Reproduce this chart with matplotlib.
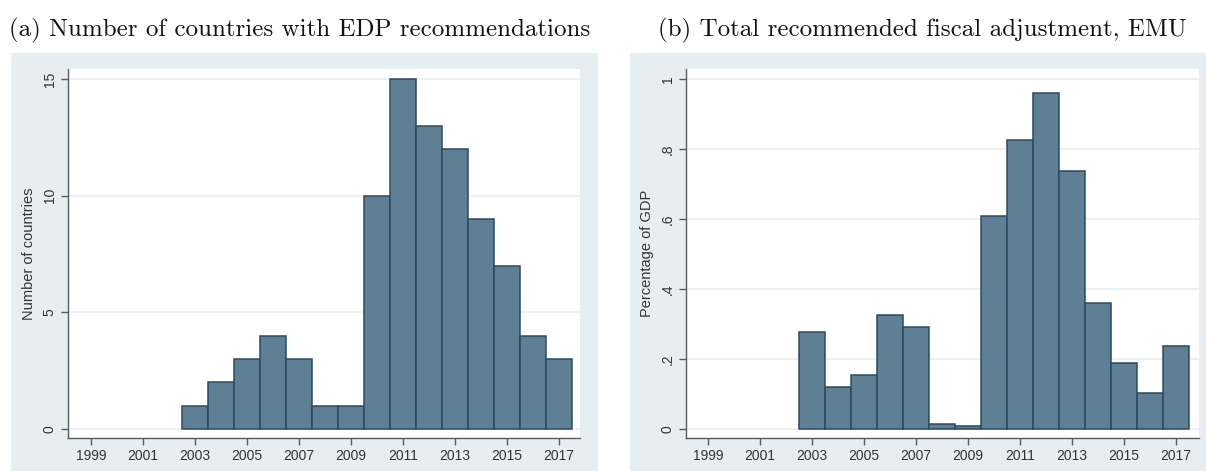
import matplotlib
matplotlib.use("Agg")
import matplotlib.pyplot as plt
from matplotlib.patches import Rectangle

years = [2003, 2004, 2005, 2006, 2007, 2008, 2009, 2010, 2011, 2012, 2013, 2014, 2015, 2016, 2017]
n_countries = [1, 2, 3, 4, 3, 1, 1, 10, 15, 13, 12, 9, 7, 4, 3]
adjustment = [0.276, 0.121, 0.155, 0.325, 0.291, 0.013, 0.010, 0.609, 0.825, 0.961, 0.736, 0.360, 0.189, 0.104, 0.237]
xticks = list(range(1999, 2018, 2))
title_a = "(a) Number of countries with EDP recommendations"
title_b = "(b) Total recommended fiscal adjustment, EMU"

W, H = 1206, 471
fig = plt.figure(figsize=(W / 100, H / 100), dpi=100)
fig.patch.set_facecolor("white")

BG = "#e7eef2"
BAR = "#5f7f94"
EDGE = "#2b4a63"
AX = "#5a5a5a"

def px_rect(x0, y0, x1, y1):
    return [x0 / W, 1 - y1 / H, (x1 - x0) / W, (y1 - y0) / H]

# panel backgrounds
for (x0, y0, x1, y1) in [(11, 53, 598, 471), (630, 53, 1206, 471)]:
    r = px_rect(x0, y0, x1, y1)
    fig.add_artist(Rectangle((r[0], r[1]), r[2], r[3], transform=fig.transFigure,
                             facecolor=BG, edgecolor="none", zorder=-10))

def panel(rect, values, yticks, yticklabels, ylim, ylabel, xlim):
    ax = fig.add_axes(px_rect(*rect))
    ax.set_facecolor("white")
    ax.bar(years, values, width=1.0, color=BAR, edgecolor=EDGE, linewidth=1.1, zorder=3)
    ax.set_xlim(*xlim)
    ax.set_ylim(*ylim)
    ax.set_xticks(xticks)
    ax.set_xticklabels([str(x) for x in xticks], fontsize=10, color="#333333",
                       fontfamily="Liberation Sans")
    ax.set_yticks(yticks)
    ax.set_yticklabels(yticklabels, fontsize=10, color="#333333", rotation=90,
                       va="center", fontfamily="Liberation Sans")
    for s in ["top", "right"]:
        ax.spines[s].set_visible(False)
    for s in ["left", "bottom"]:
        ax.spines[s].set_color(AX)
        ax.spines[s].set_linewidth(1.0)
    ax.tick_params(axis="both", direction="out", length=5, width=1, color=AX, pad=3)
    ax.yaxis.grid(True, color="#e9eff2", linewidth=1.2, zorder=0)
    ax.set_axisbelow(True)
    ax.set_ylabel(ylabel, fontsize=10.5, color="#333333", fontfamily="Liberation Sans", labelpad=5)
    return ax

ax1 = panel((68, 69, 580, 438), n_countries, [0, 5, 10, 15], ["0", "5", "10", "15"],
            (-0.386, 15.43), "Number of countries", (1998.12, 2017.81))
ax2 = panel((686, 69, 1199, 438), adjustment, [0, 0.2, 0.4, 0.6, 0.8, 1.0],
            ["0", ".2", ".4", ".6", ".8", "1"], (-0.0257, 1.0286), "Percentage of GDP",
            (1998.15, 2017.88))

fig.text(300 / W, 1 - 30 / H, title_a, ha="center", va="center", fontsize=18,
         fontfamily="cmr10", color="#111111")
fig.text(922 / W, 1 - 30 / H, title_b, ha="center", va="center", fontsize=18,
         fontfamily="cmr10", color="#111111")

fig.savefig("out.png", dpi=100, facecolor="white")
